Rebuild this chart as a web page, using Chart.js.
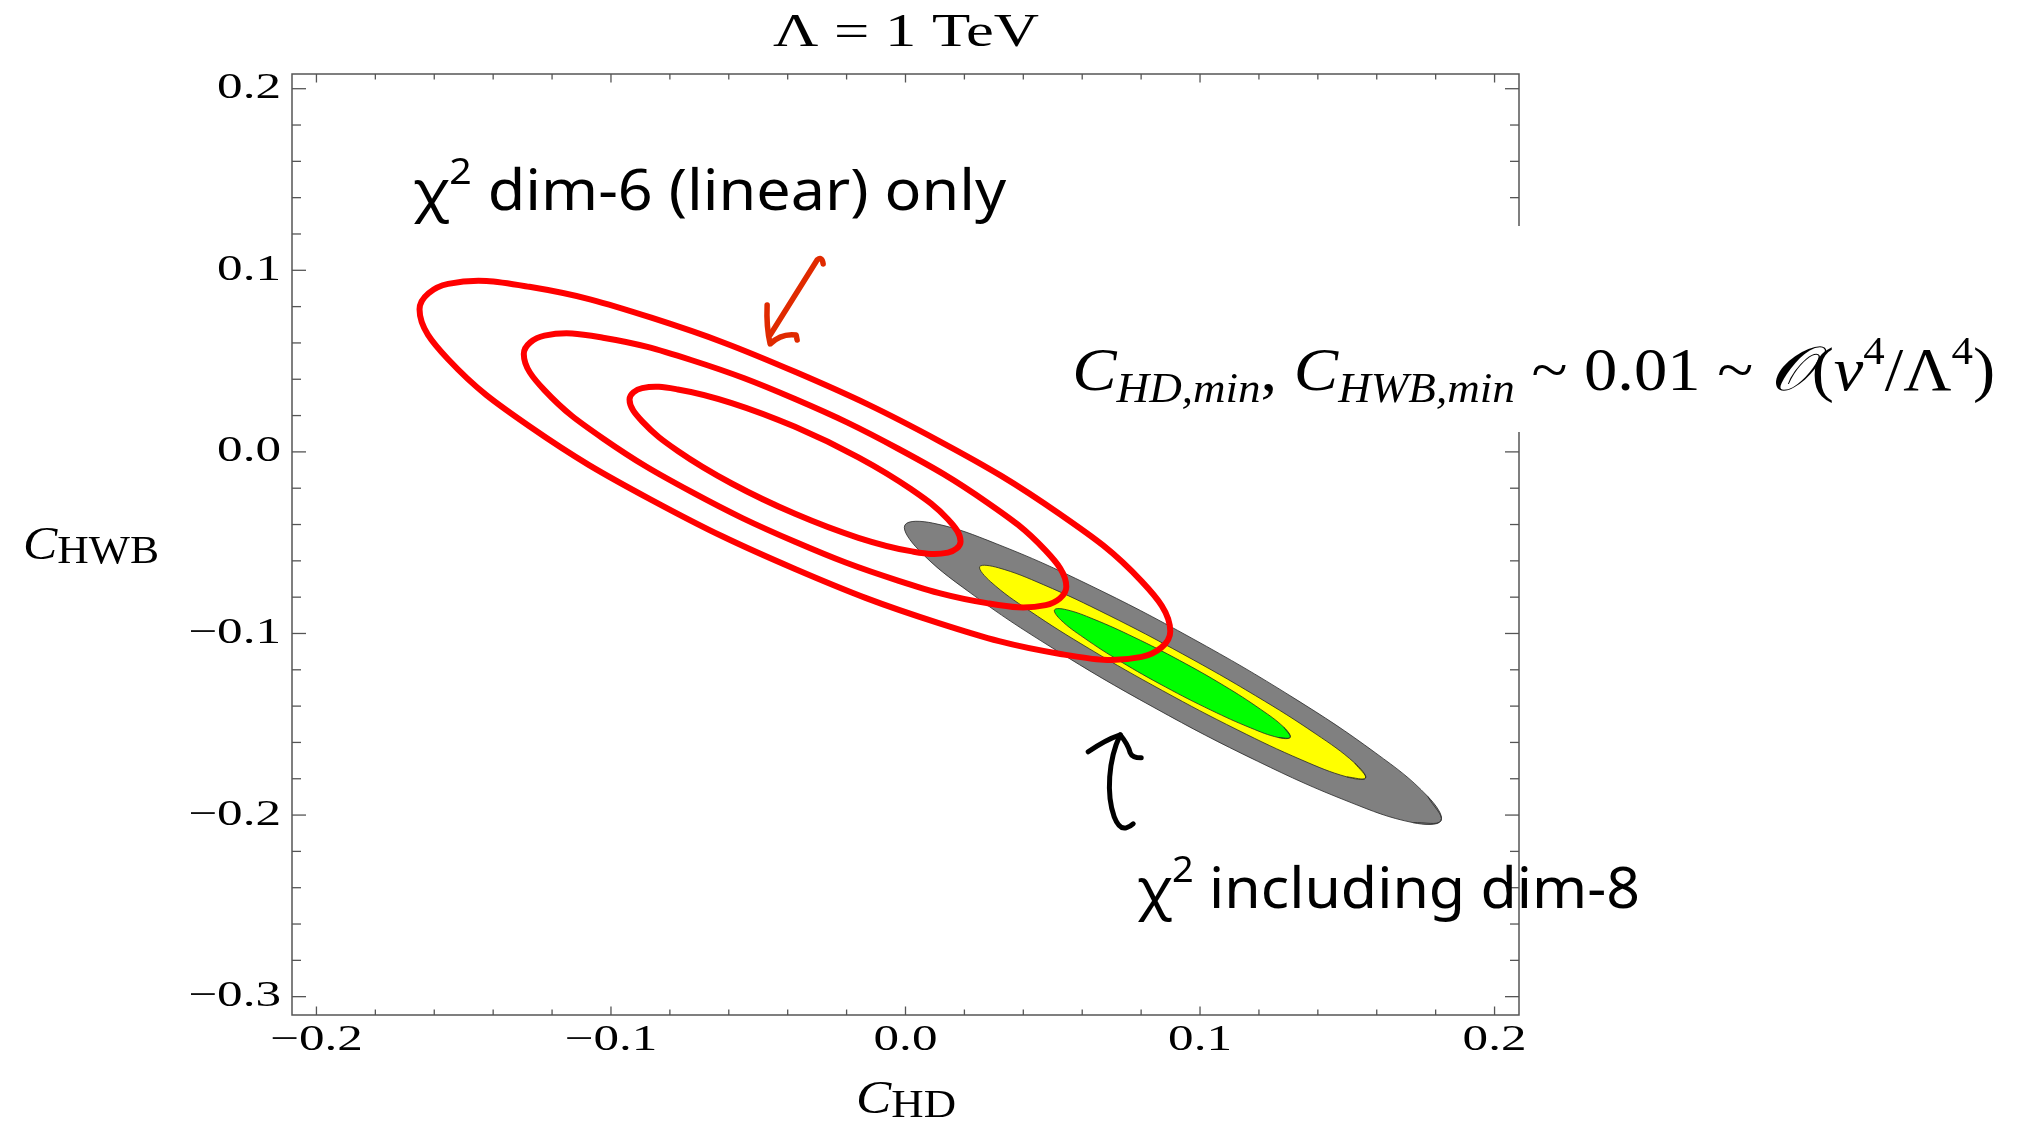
<!DOCTYPE html>
<html>
<head>
<meta charset="utf-8">
<title>C_HD vs C_HWB, Λ = 1 TeV</title>
<script src="https://cdn.jsdelivr.net/npm/chart.js@4.4.1/dist/chart.umd.min.js"></script>
<style>
  html, body { margin: 0; padding: 0; background: #fff; }
  #wrap { width: 2025px; height: 1121px; }
</style>
</head>
<body>
<div id="wrap"><canvas id="chart" width="2025" height="1121"></canvas></div>
<script>
// axis ticks (C_HD along x, C_HWB along y)
const xTicks = [-0.2, -0.1, 0.0, 0.1, 0.2];
const yTicks = [0.2, 0.1, 0.0, -0.1, -0.2, -0.3];

// chi^2 dim-6 (linear) only: three nested red contours
const dim6OuterHD  = [0.0899, 0.0802, 0.0526, 0.0113, -0.0375, -0.0863, -0.1277, -0.1553, -0.1650, -0.1553, -0.1277, -0.0863, -0.0375, 0.0113, 0.0526, 0.0802];
const dim6OuterHWB = [-0.0989, -0.1129, -0.1113, -0.0943, -0.0645, -0.0264, 0.0141, 0.0510, 0.0785, 0.0925, 0.0909, 0.0739, 0.0441, 0.0061, -0.0345, -0.0713];
const dim6MiddleHD  = [0.0546, 0.0476, 0.0276, -0.0023, -0.0375, -0.0728, -0.1027, -0.1226, -0.1296, -0.1226, -0.1027, -0.0728, -0.0375, -0.0023, 0.0276, 0.0476];
const dim6MiddleHWB = [-0.0743, -0.0844, -0.0833, -0.0710, -0.0495, -0.0219, 0.0074, 0.0340, 0.0539, 0.0640, 0.0629, 0.0506, 0.0291, 0.0016, -0.0277, -0.0544];
const dim6InnerHD  = [0.0187, 0.0144, 0.0022, -0.0160, -0.0375, -0.0590, -0.0773, -0.0894, -0.0937, -0.0894, -0.0773, -0.0590, -0.0375, -0.0160, 0.0022, 0.0144];
const dim6InnerHWB = [-0.0493, -0.0555, -0.0548, -0.0473, -0.0341, -0.0174, 0.0005, 0.0168, 0.0289, 0.0351, 0.0344, 0.0269, 0.0138, -0.0030, -0.0209, -0.0371];

// chi^2 including dim-8: filled regions (gray, yellow, green)
const dim8OuterHD  = [0.1818, 0.1724, 0.1506, 0.1196, 0.0843, 0.0500, 0.0219, 0.0043, -0.0002, 0.0092, 0.0310, 0.0620, 0.0973, 0.1316, 0.1597, 0.1773];
const dim8OuterHWB = [-0.2031, -0.2042, -0.1927, -0.1704, -0.1407, -0.1081, -0.0775, -0.0537, -0.0403, -0.0392, -0.0507, -0.0730, -0.1027, -0.1353, -0.1659, -0.1897];
const dim8MidHD  = [0.1562, 0.1499, 0.1346, 0.1126, 0.0873, 0.0625, 0.0420, 0.0289, 0.0252, 0.0315, 0.0468, 0.0688, 0.0941, 0.1189, 0.1394, 0.1525];
const dim8MidHWB = [-0.1796, -0.1790, -0.1697, -0.1530, -0.1315, -0.1085, -0.0874, -0.0715, -0.0632, -0.0638, -0.0731, -0.0898, -0.1113, -0.1343, -0.1554, -0.1713];
const dim8InnerHD  = [0.1306, 0.1266, 0.1172, 0.1037, 0.0882, 0.0730, 0.0606, 0.0527, 0.0506, 0.0546, 0.0640, 0.0775, 0.0930, 0.1082, 0.1206, 0.1285];
const dim8InnerHWB = [-0.1572, -0.1573, -0.1520, -0.1422, -0.1294, -0.1154, -0.1024, -0.0925, -0.0870, -0.0869, -0.0922, -0.1020, -0.1148, -0.1288, -0.1418, -0.1517];

const SERIF = '"Liberation Serif", "Times New Roman", serif';
const HAND = '"Noto Sans", "DejaVu Sans", sans-serif';
const RED = '#ff0000';

// linear scale whose tick labels are drawn a bit wider, like the original figure
class StretchedLinearScale extends Chart.LinearScale {
    drawLabels(chartArea) {
        const ctx = this.ctx;
        const sx = this.options.ticks.stretch || 1;
        for (const item of this.getLabelItems(chartArea)) {
            const o = item.options;
            ctx.save();
            ctx.translate(o.translation[0], o.translation[1]);
            ctx.scale(sx, 1);
            Chart.helpers.renderText(ctx, item.label, 0, item.textOffset, item.font, Object.assign({}, o, { translation: null }));
            ctx.restore();
        }
    }
}
StretchedLinearScale.id = 'stretchedLinear';
StretchedLinearScale.defaults = Chart.LinearScale.defaults;
Chart.register(StretchedLinearScale);

// closed curve: wrap one point on each side so the spline is smooth at the seam
function closedPath(hd, hwb) {
    const pts = hd.map((x, i) => ({ x: x, y: hwb[i] }));
    const n = pts.length;
    return [pts[n - 1]].concat(pts, [pts[0], pts[1]]);
}

function redContour(hd, hwb) {
    const data = closedPath(hd, hwb);
    const last = data.length - 1;
    return {
        data: data,
        borderColor: RED,
        borderWidth: 6,
        borderCapStyle: 'round',
        borderJoinStyle: 'round',
        pointRadius: 0,
        tension: 0.4,
        fill: false,
        order: 1,
        segment: {
            // hide the two wrap-around segments
            borderColor: (ctx) => (ctx.p0DataIndex === 0 || ctx.p1DataIndex === last) ? 'rgba(0,0,0,0)' : RED,
        },
    };
}

function filledContour(hd, hwb, color, order) {
    return {
        data: closedPath(hd, hwb),
        backgroundColor: color,
        borderColor: 'rgba(40,40,40,0.8)',
        borderWidth: 1,
        pointRadius: 0,
        tension: 0.4,
        fill: 'shape',
        order: order,
    };
}

function fmt(v) {
    return (v < 0 ? '\u2212' : '') + Math.abs(v).toFixed(1);
}

// draw a row of text runs, squeezed/stretched to a target width
function drawRuns(ctx, runs, x, y, width, align) {
    let w = 0;
    runs.forEach((r) => { ctx.font = r.font; r.w = ctx.measureText(r.t).width; w += r.w; });
    const sx = width / w;
    ctx.save();
    ctx.translate(align === 'center' ? x - width / 2 : x, y);
    ctx.scale(sx, 1);
    ctx.textBaseline = 'alphabetic';
    ctx.textAlign = 'left';
    let cx = 0;
    runs.forEach((r) => {
        ctx.font = r.font;
        ctx.fillText(r.t, cx, r.dy || 0);
        cx += r.w;
    });
    ctx.restore();
}

function strokeLine(ctx, x0, y0, x1, y1) {
    ctx.beginPath();
    ctx.moveTo(x0, y0);
    ctx.lineTo(x1, y1);
    ctx.stroke();
}

const frameAndNotes = {
    id: 'frameAndNotes',
    afterDraw(chart) {
        const ctx = chart.ctx;
        const { left, right, top, bottom } = chart.chartArea;
        const xs = chart.scales.x;
        const ys = chart.scales.y;
        const px = (x, y) => [xs.getPixelForValue(x), ys.getPixelForValue(y)];

        ctx.save();
        // frame with inward ticks on all four sides
        ctx.strokeStyle = '#555';
        ctx.lineWidth = 1.5;
        ctx.strokeRect(left, top, right - left, bottom - top);
        ctx.lineWidth = 1.3;
        for (let k = -10; k <= 10; k++) {
            const v = k * 0.02;
            if (v < xs.min || v > xs.max) continue;
            const p = xs.getPixelForValue(v);
            const len = k % 5 === 0 ? 8.5 : 5.5;
            strokeLine(ctx, p, bottom, p, bottom - len);
            strokeLine(ctx, p, top, p, top + len);
        }
        for (let k = -15; k <= 10; k++) {
            const v = k * 0.02;
            if (v < ys.min || v > ys.max) continue;
            const p = ys.getPixelForValue(v);
            const len = k % 5 === 0 ? 14 : 9;
            strokeLine(ctx, left, p, left + len, p);
            strokeLine(ctx, right, p, right - len, p);
        }

        // white box behind the estimate (hides the right frame there)
        ctx.fillStyle = '#fff';
        ctx.fillRect(1058, 226, chart.width - 1058, 206);

        ctx.fillStyle = '#000';
        // title
        drawRuns(ctx, [{ t: '\u039B = 1 TeV', font: `47px ${SERIF}` }], 906, top - 28, 266, 'center');
        // axis titles
        drawRuns(ctx, [
            { t: 'C', font: `italic 46px ${SERIF}` },
            { t: 'HWB', font: `39px ${SERIF}`, dy: 4 },
        ], 23, 559, 136);
        drawRuns(ctx, [
            { t: 'C', font: `italic 46px ${SERIF}` },
            { t: 'HD', font: `39px ${SERIF}`, dy: 4 },
        ], 856, 1113, 100);

        // estimate of the minimum
        const m = px(0.0566, 0.0341);
        drawRuns(ctx, [
            { t: 'C', font: `italic 62px ${SERIF}` },
            { t: 'HD,min', font: `italic 42px ${SERIF}`, dy: 12 },
            { t: ', ', font: `62px ${SERIF}` },
            { t: 'C', font: `italic 62px ${SERIF}` },
            { t: 'HWB,min', font: `italic 42px ${SERIF}`, dy: 12 },
            { t: ' ~ 0.01 ~ ', font: `62px ${SERIF}` },
            { t: '\uD835\uDCAA', font: `italic 62px ${SERIF}` },
            { t: '(', font: `62px ${SERIF}` },
            { t: 'v', font: `italic 62px ${SERIF}` },
            { t: '4', font: `40px ${SERIF}`, dy: -26 },
            { t: '/\u039B', font: `62px ${SERIF}` },
            { t: '4', font: `40px ${SERIF}`, dy: -26 },
            { t: ')', font: `62px ${SERIF}` },
        ], m[0], m[1], 923);

        // handwritten labels
        const a = px(-0.1672, 0.1333);
        drawRuns(ctx, [
            { t: '\u03C7', font: `56px ${HAND}` },
            { t: '2', font: `36px ${HAND}`, dy: -26 },
            { t: ' dim-6 (linear) only', font: `56px ${HAND}` },
        ], a[0], a[1], 593);
        const b = px(0.0786, -0.2511);
        drawRuns(ctx, [
            { t: '\u03C7', font: `56px ${HAND}` },
            { t: '2', font: `36px ${HAND}`, dy: -26 },
            { t: ' including dim-8', font: `56px ${HAND}` },
        ], b[0], b[1], 503);

        // red arrow pointing at the dim-6 contours
        ctx.lineCap = 'round';
        ctx.lineJoin = 'round';
        const r = px(-0.0463, 0.0633);
        ctx.translate(r[0], r[1]);
        ctx.strokeStyle = '#e02a00';
        ctx.lineWidth = 5.5;
        ctx.beginPath();
        ctx.moveTo(54, -73);
        ctx.quadraticCurveTo(53, -81, 48, -77);
        ctx.lineTo(1, -2);
        ctx.stroke();
        ctx.beginPath();
        ctx.moveTo(-2, -32);
        ctx.quadraticCurveTo(-3, -10, 1, 7);
        ctx.quadraticCurveTo(12, -4, 27, -2);
        ctx.lineTo(28, 3);
        ctx.stroke();
        ctx.translate(-r[0], -r[1]);

        // black arrow pointing at the dim-8 regions
        const k = px(0.0729, -0.1558);
        ctx.translate(k[0], k[1]);
        ctx.strokeStyle = '#000';
        ctx.lineWidth = 5;
        ctx.beginPath();
        ctx.moveTo(0, 0);
        ctx.bezierCurveTo(-12, 25, -14, 60, -6, 82);
        ctx.quadraticCurveTo(-1, 95, 6, 93);
        ctx.quadraticCurveTo(10, 92, 13, 89);
        ctx.stroke();
        ctx.beginPath();
        ctx.moveTo(-32, 17);
        ctx.quadraticCurveTo(-15, 5, 0, 0);
        ctx.quadraticCurveTo(8, 10, 10, 18);
        ctx.quadraticCurveTo(12, 23, 21, 23);
        ctx.stroke();
        ctx.restore();
    },
};

const tickFont = { family: SERIF, size: 36 };

new Chart(document.getElementById('chart'), {
    type: 'line',
    data: {
        datasets: [
            redContour(dim6InnerHD, dim6InnerHWB),
            redContour(dim6MiddleHD, dim6MiddleHWB),
            redContour(dim6OuterHD, dim6OuterHWB),
            filledContour(dim8InnerHD, dim8InnerHWB, '#00ff00', 4),
            filledContour(dim8MidHD, dim8MidHWB, '#ffff00', 5),
            filledContour(dim8OuterHD, dim8OuterHWB, '#808080', 6),
        ],
    },
    options: {
        responsive: false,
        animation: false,
        devicePixelRatio: 1,
        layout: { padding: { left: 0, top: 74, right: 506, bottom: 0 } },
        plugins: { legend: { display: false }, tooltip: { enabled: false }, title: { display: false } },
        scales: {
            x: {
                type: 'stretchedLinear',
                position: 'bottom',
                min: -0.2083,
                max: 0.2083,
                afterBuildTicks: (s) => { s.ticks = xTicks.map((v) => ({ value: v })); },
                afterFit: (s) => { s.height = 106; },
                grid: { display: false, drawTicks: false },
                border: { display: false },
                ticks: { font: tickFont, color: '#000', padding: 4, maxRotation: 0, autoSkip: false, stretch: 1.42, callback: fmt },
            },
            y: {
                type: 'stretchedLinear',
                position: 'left',
                min: -0.3101,
                max: 0.2081,
                afterBuildTicks: (s) => { s.ticks = yTicks.map((v) => ({ value: v })); },
                afterFit: (s) => { s.width = 292; },
                grid: { display: false, drawTicks: false },
                border: { display: false },
                ticks: { font: tickFont, color: '#000', padding: 11, autoSkip: false, stretch: 1.42, callback: fmt },
            },
        },
    },
    plugins: [frameAndNotes],
});
</script>
</body>
</html>
